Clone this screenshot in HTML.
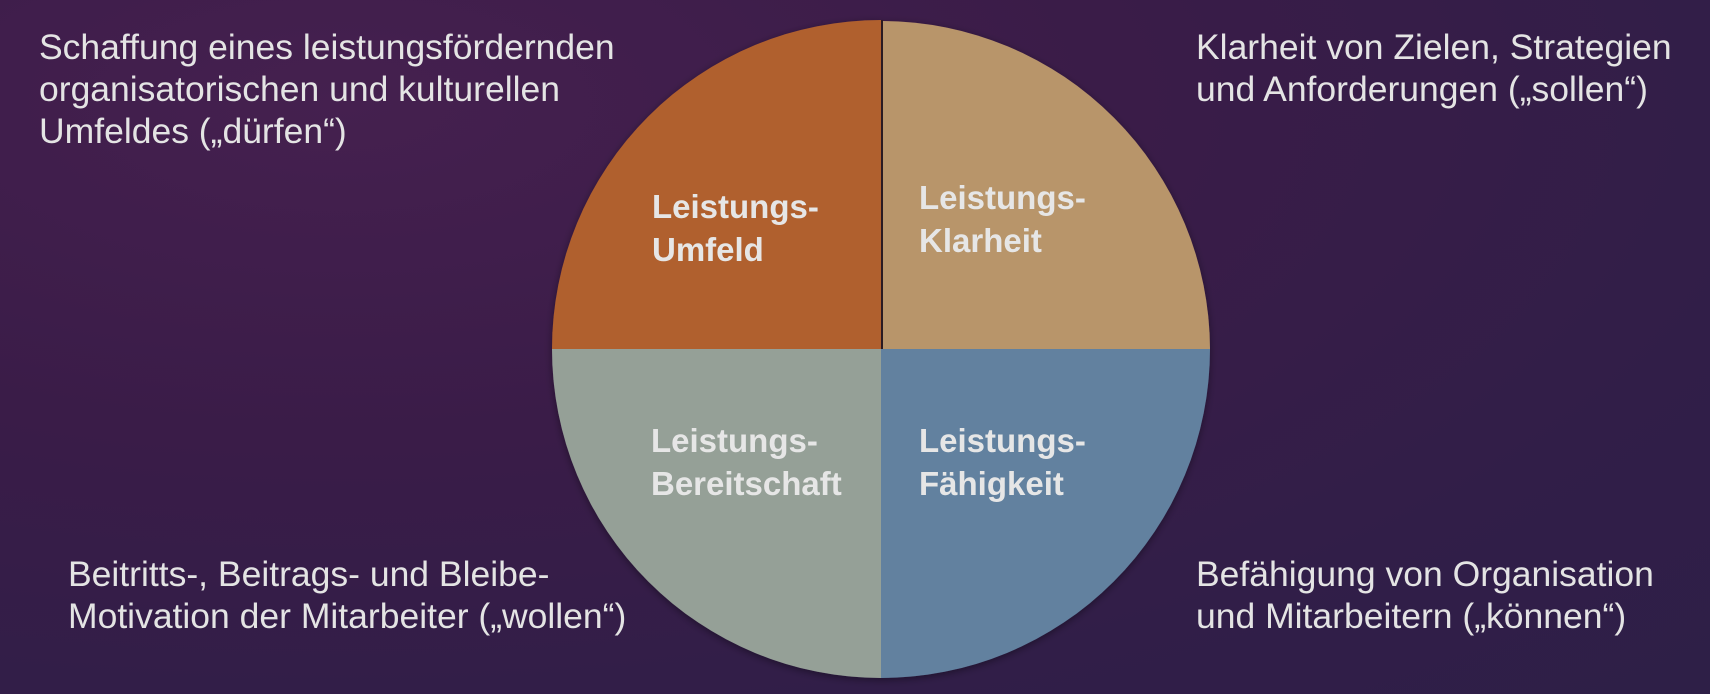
<!DOCTYPE html>
<html><head><meta charset="utf-8"><style>
html,body{margin:0;padding:0}
body{width:1710px;height:694px;overflow:hidden;position:relative;
background:radial-gradient(ellipse at 20% 15%,#45204f 0%,#3a1c48 40%,#311e48 75%,#2e1f47 100%);
font-family:"Liberation Sans",sans-serif;}
.t{position:absolute;color:#e4e4e4;font-size:35.5px;line-height:42px;white-space:nowrap}
svg{position:absolute;left:0;top:0}
</style></head><body>
<svg width="1710" height="694">
<defs><filter id="s" x="-10%" y="-10%" width="120%" height="120%"><feDropShadow dx="0" dy="2" stdDeviation="4" flood-color="#000" flood-opacity="0.4"/></filter></defs>
<g filter="url(#s)">
<path d="M881,349 L552,349 A329,329 0 0 1 881,20 Z" fill="#b0612f"/>
<path d="M883,349 L883,21 A329,329 0 0 1 1210,349 Z" fill="#b8956b"/>
<path d="M881,349 L552,349 A329,329 0 0 0 881,678 Z" fill="#95a097"/>
<path d="M881,349 L1210,349 A329,329 0 0 1 881,678 Z" fill="#62819f"/>
</g>
<line x1="882" y1="20" x2="882" y2="349" stroke="#2a1a22" stroke-width="2"/>
<g font-family="Liberation Sans, sans-serif" font-weight="bold" font-size="33" fill="#e6e6e6">
<text x="652" y="218">Leistungs-</text><text x="652" y="261">Umfeld</text>
<text x="919" y="209">Leistungs-</text><text x="919" y="252">Klarheit</text>
<text x="651" y="452">Leistungs-</text><text x="651" y="495">Bereitschaft</text>
<text x="919" y="452">Leistungs-</text><text x="919" y="495">Fähigkeit</text>
</g>
</svg>
<div class="t" style="left:39px;top:26px">Schaffung eines leistungsfördernden<br>organisatorischen und kulturellen<br>Umfeldes („dürfen“)</div>
<div class="t" style="left:1196px;top:26px">Klarheit von Zielen, Strategien<br>und Anforderungen („sollen“)</div>
<div class="t" style="left:68px;top:553px">Beitritts-, Beitrags- und Bleibe-<br>Motivation der Mitarbeiter („wollen“)</div>
<div class="t" style="left:1196px;top:553px">Befähigung von Organisation<br>und Mitarbeitern („können“)</div>
</body></html>
